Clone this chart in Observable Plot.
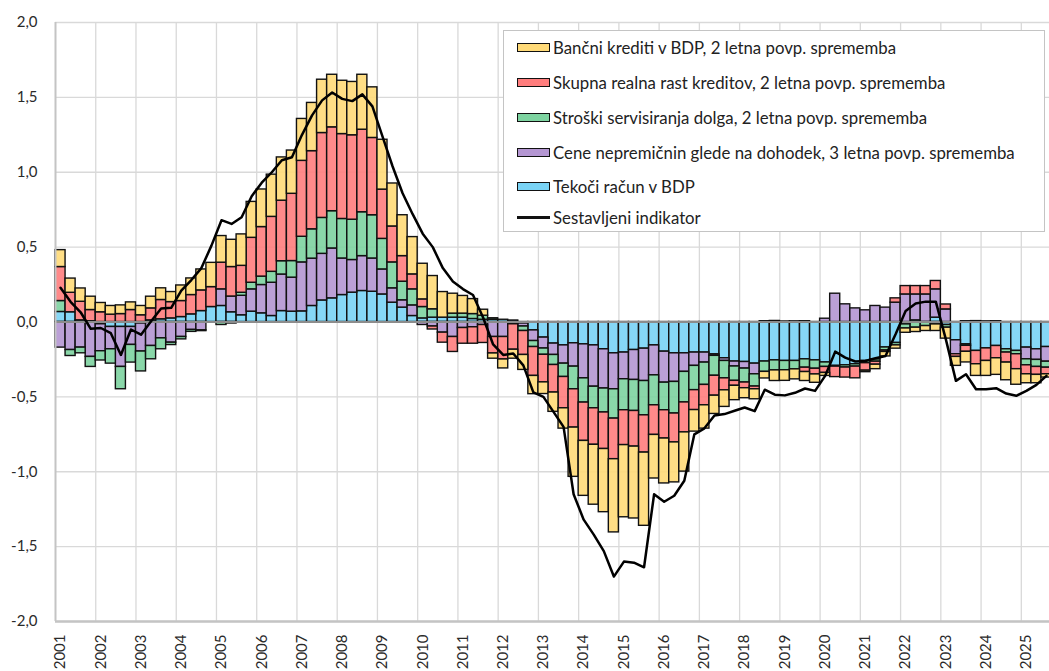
<!DOCTYPE html>
<html><head><meta charset="utf-8">
<script src="https://cdn.jsdelivr.net/npm/d3@7"></script>
<script src="https://cdn.jsdelivr.net/npm/@observablehq/plot@0.6"></script>
<style>
body{margin:0;background:#fff;}
#wrap{position:relative;width:1049px;height:671px;font-family:Lato,"Open Sans",sans-serif;overflow:hidden}
#legend{position:absolute;left:503px;top:30px;width:542px;height:202px;background:#fff;border:1px solid #c4c4c4;box-sizing:border-box;}
.row{position:absolute;left:13px;height:20px;margin-top:-10px;display:flex;align-items:center;font-size:16.8px;color:#222;white-space:nowrap}
.sw{width:33px;height:9px;border:1.5px solid #111;box-sizing:border-box;margin-right:3px}
.ln{width:33px;height:2.5px;background:#111;margin-right:3px}
</style></head>
<body><div id="wrap"><div id="chart"></div><div id="legend"></div></div>
<script>
// quarterly data, 2001Q1 .. 2025Q3
const startYear = 2001;
const years = d3.range(2001, 2026);
const yTicks = [-2, -1.5, -1, -0.5, 0, 0.5, 1, 1.5, 2];

const tekociRacun = [0.067,0.065,0.011,0.005,-0.015,-0.033,-0.033,-0.033,-0.01,0.011,0.018,0.024,0.033,0.051,0.073,0.1,0.107,0.065,0.045,0.069,0.058,0.04,0.073,0.069,0.071,0.107,0.144,0.158,0.18,0.196,0.207,0.202,0.184,0.129,0.096,0.04,0.024,0.029,0.029,0.029,0.029,0.02,0.015,0.015,0.015,0.01,-0.01,-0.056,-0.104,-0.144,-0.156,-0.142,-0.149,-0.156,-0.182,-0.209,-0.204,-0.187,-0.178,-0.156,-0.198,-0.209,-0.209,-0.204,-0.204,-0.216,-0.242,-0.264,-0.267,-0.278,-0.264,-0.256,-0.26,-0.26,-0.249,-0.256,-0.27,-0.293,-0.289,-0.282,-0.26,-0.25,-0.17,-0.14,-0.016,0.011,0.0,0.029,-0.02,-0.122,-0.149,-0.193,-0.176,-0.16,-0.182,-0.193,-0.171,-0.182,-0.167];
const ceneNepremicnin = [-0.171,-0.187,-0.171,-0.233,-0.18,-0.149,-0.267,-0.12,-0.187,-0.16,-0.109,-0.138,-0.1,-0.053,-0.056,0.0,0.111,0.105,0.13,0.149,0.189,0.222,0.244,0.227,0.327,0.316,0.311,0.333,0.244,0.218,0.233,0.222,0.167,0.096,0.049,0.071,-0.02,-0.03,-0.071,-0.1,-0.04,-0.035,-0.02,-0.1,-0.1,-0.015,-0.02,-0.071,-0.073,-0.076,-0.122,-0.156,-0.227,-0.276,-0.262,-0.24,-0.178,-0.2,-0.216,-0.2,-0.207,-0.191,-0.124,-0.089,-0.067,-0.01,-0.018,-0.033,-0.044,-0.071,0.005,0.007,0.003,0.004,0.005,0.0,0.022,0.189,0.118,0.091,0.078,0.107,0.096,0.129,0.184,0.173,0.184,0.189,0.084,-0.093,0.005,0.006,0.004,0.005,0.0,0.0,-0.078,-0.071,-0.098];
const strosekDolga = [0.073,-0.04,-0.038,-0.067,-0.062,-0.096,-0.149,-0.118,-0.133,-0.089,-0.073,-0.016,-0.016,-0.013,-0.005,0.0,-0.02,-0.01,0.02,0.044,0.056,0.073,0.089,0.111,0.171,0.196,0.24,0.249,0.264,0.269,0.293,0.289,0.204,0.173,0.124,0.107,0.076,0.056,0.0,0.027,0.027,0.033,0.027,0.01,0.0,0.0,-0.03,-0.04,-0.042,-0.067,-0.089,-0.151,-0.162,-0.144,-0.16,-0.196,-0.207,-0.207,-0.229,-0.2,-0.184,-0.211,-0.204,-0.162,-0.149,-0.133,-0.116,-0.096,-0.093,-0.082,-0.069,-0.067,-0.062,-0.056,-0.056,-0.056,-0.03,-0.005,-0.015,-0.016,-0.015,-0.015,-0.02,-0.016,-0.027,-0.038,-0.027,-0.016,-0.018,0.0,-0.01,0.0,0.0,0.0,-0.022,-0.022,-0.04,-0.047,-0.04];
const rastKreditov = [0.227,0.13,0.124,0.075,0.065,0.049,0.053,0.08,0.045,0.08,0.129,0.109,0.107,0.129,0.138,0.133,0.178,0.197,0.18,0.3,0.331,0.367,0.404,0.449,0.507,0.522,0.567,0.56,0.567,0.564,0.551,0.516,0.329,0.24,0.171,0.1,0.051,-0.02,-0.067,-0.1,-0.105,-0.11,-0.12,-0.11,-0.15,-0.17,-0.16,-0.193,-0.184,-0.184,-0.209,-0.256,-0.256,-0.244,-0.244,-0.271,-0.233,-0.238,-0.249,-0.198,-0.189,-0.193,-0.2,-0.133,-0.136,-0.133,-0.08,-0.033,-0.038,-0.018,0.0,0.0,0.0,0.0,-0.029,-0.038,-0.04,-0.07,-0.067,-0.078,-0.05,-0.02,-0.01,0.029,0.056,0.056,0.056,0.056,0.033,-0.018,-0.04,-0.089,-0.084,-0.082,-0.067,-0.1,-0.06,-0.053,-0.044];
const bancniKrediti = [0.113,0.095,0.089,0.089,0.062,0.058,0.058,0.051,0.062,0.078,0.078,0.067,0.104,0.111,0.14,0.162,0.178,0.182,0.21,0.24,0.251,0.282,0.289,0.289,0.28,0.322,0.356,0.351,0.356,0.356,0.367,0.338,0.333,0.287,0.273,0.249,0.238,0.222,0.171,0.133,0.118,0.1,0.04,-0.035,-0.06,-0.06,-0.1,-0.122,-0.078,-0.129,-0.136,-0.329,-0.367,-0.4,-0.422,-0.489,-0.482,-0.48,-0.489,-0.291,-0.3,-0.267,-0.262,-0.144,-0.156,-0.122,-0.111,-0.096,-0.067,-0.067,-0.044,-0.071,-0.071,-0.067,-0.06,-0.056,-0.02,0.0,0.0,0.0,-0.01,-0.03,-0.03,-0.022,-0.029,-0.029,-0.033,-0.044,-0.073,-0.06,-0.071,-0.078,-0.1,-0.111,-0.118,-0.104,-0.06,-0.056,-0.022];
const sestavljeni = [0.229,0.135,0.065,-0.045,-0.04,-0.075,-0.22,-0.05,-0.085,0.005,0.09,0.095,0.21,0.28,0.36,0.51,0.68,0.655,0.70,0.84,0.93,1.0,1.08,1.1,1.25,1.38,1.48,1.533,1.49,1.475,1.52,1.44,1.24,1.04,0.86,0.72,0.59,0.5,0.36,0.27,0.22,0.18,0.03,-0.15,-0.22,-0.21,-0.29,-0.47,-0.5,-0.6,-0.7,-1.15,-1.32,-1.42,-1.53,-1.7,-1.6,-1.607,-1.638,-1.15,-1.2,-1.16,-1.06,-0.75,-0.71,-0.625,-0.615,-0.593,-0.571,-0.595,-0.452,-0.485,-0.49,-0.473,-0.444,-0.46,-0.36,-0.198,-0.238,-0.264,-0.26,-0.242,-0.227,-0.082,0.073,0.124,0.136,0.136,-0.116,-0.393,-0.349,-0.449,-0.449,-0.442,-0.478,-0.493,-0.46,-0.42,-0.36];

// stack order (from zero outward)
const seriesNames = [
  "Tekoči račun v BDP",
  "Cene nepremičnin glede na dohodek, 3 letna povp. sprememba",
  "Stroški servisiranja dolga, 2 letna povp. sprememba",
  "Skupna realna rast kreditov, 2 letna povp. sprememba",
  "Bančni krediti v BDP, 2 letna povp. sprememba"
];
const seriesValues = [tekociRacun, ceneNepremicnin, strosekDolga, rastKreditov, bancniKrediti];
const seriesColors = ["#79d3f5", "#b496d2", "#7dd3a0", "#ff7d7d", "#ffda78"];
const lineName = "Sestavljeni indikator";

const n = sestavljeni.length;
const rows = [];
seriesNames.forEach((name, k) => {
  seriesValues[k].forEach((v, i) => rows.push({t: startYear + i / 4, v, key: name}));
});
const lineRows = sestavljeni.map((v, i) => ({t: startYear + i / 4, v}));
const fmt = d => d.toFixed(1).replace(".", ",");

const chart = Plot.plot({
  width: 1049, height: 671,
  marginLeft: 55, marginRight: -2, marginTop: 22, marginBottom: 50,
  style: {fontFamily: "Lato, 'Open Sans', sans-serif", background: "transparent"},
  x: {domain: [startYear, startYear + n / 4], axis: null},
  y: {domain: [-2, 2], axis: null},
  color: {domain: seriesNames, range: seriesColors},
  marks: [
    Plot.ruleY(yTicks, {stroke: "#d9d9d9", strokeWidth: 1.3}),
    Plot.ruleX(years.slice(1), {stroke: "#d9d9d9", strokeWidth: 1.3}),
    Plot.rectY(rows, Plot.stackY({
      x1: "t", x2: d => d.t + 0.25, y: "v", fill: "key", order: seriesNames,
      stroke: "#111", strokeWidth: 1.4, fillOpacity: 0.9
    })),
    Plot.ruleY([0], {stroke: "#8c8c8c", strokeWidth: 2}),
    Plot.ruleX([startYear], {stroke: "#c4c4c4", strokeWidth: 2}),
    Plot.ruleY([-2], {stroke: "#c4c4c4", strokeWidth: 2.5}),
    Plot.line(lineRows, {x: d => d.t + 0.125, y: "v", stroke: "#000", strokeWidth: 2.5}),
    Plot.text(yTicks, {x: startYear, y: d => d, text: fmt, textAnchor: "end", dx: -18, fontSize: 15, fill: "#2a2a2a"}),
    Plot.text(years, {x: d => d + 0.125, y: -2, text: d => String(d), rotate: -90, textAnchor: "end", dy: 13, fontSize: 15, fill: "#2a2a2a"})
  ]
});
document.getElementById("chart").appendChild(chart);

// legend (order as in the reference)
const legend = document.getElementById("legend");
const legendOrder = [4, 3, 2, 1, 0];
const rowCenters = [16.7, 51.7, 86.7, 121, 155.7, 186.7];
legendOrder.forEach((k, j) => {
  const r = document.createElement("div");
  r.className = "row";
  r.style.top = rowCenters[j] + "px";
  const sw = document.createElement("span");
  sw.className = "sw";
  sw.style.background = seriesColors[k];
  r.appendChild(sw);
  r.appendChild(document.createTextNode(seriesNames[k]));
  legend.appendChild(r);
});
const lr = document.createElement("div");
lr.className = "row";
lr.style.top = rowCenters[5] + "px";
const ln = document.createElement("span");
ln.className = "ln";
lr.appendChild(ln);
lr.appendChild(document.createTextNode(lineName));
legend.appendChild(lr);
</script></body></html>
